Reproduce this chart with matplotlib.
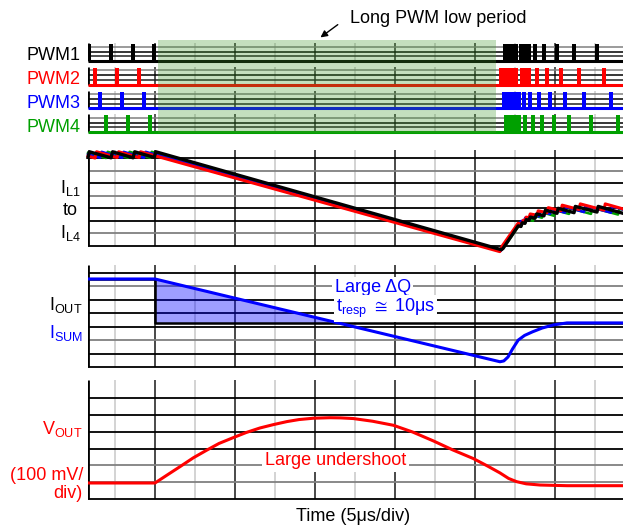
import matplotlib
matplotlib.use("Agg")
import matplotlib.pyplot as plt
import numpy as np

plt.rcParams["font.family"] = ["Liberation Sans", "DejaVu Sans"]
plt.rcParams["font.size"] = 13
plt.rcParams["mathtext.fontset"] = "custom"
plt.rcParams["mathtext.rm"] = "Liberation Sans"
plt.rcParams["mathtext.it"] = "Liberation Sans:italic"
plt.rcParams["mathtext.fallback"] = "stixsans"

W, H = 623, 527

# time axis in us (5 us/div)
t_left, t_right = 0.8125, 34.25
low_period = (5.2, 26.3)

# PWM pulses (centres, us) and the dense burst after the long low period
pwm_names = ["PWM1", "PWM2", "PWM3", "PWM4"]
pwm_colors = ["black", "red", "blue", "#00a000"]
pwm_pre = [
    [0.9, 2.25, 3.63, 4.95],
    [1.25, 2.63, 4.0],
    [1.56, 2.94, 4.31],
    [1.92, 3.29, 4.69],
]
pwm_burst = [(26.75, 27.69), (26.5, 27.69), (26.7, 27.9), (26.8, 27.9)]
pwm_post = [
    [27.875, 28.125, 28.375, 28.75, 29.31, 30.125, 31.19, 32.625],
    [27.94, 28.125, 28.375, 28.875, 29.5, 30.375, 31.5, 33.06],
    [28.06, 28.44, 29.0, 29.69, 30.625, 31.81, 33.5],
    [28.125, 28.625, 29.19, 29.94, 30.875, 32.25, 33.94],
]

# inductor currents (div)
il1_t = [0.8125, 0.9, 2.25, 2.35, 3.63, 3.73, 4.95, 5.05, 26.65, 26.75, 27.7, 27.875, 27.95,
         28.125, 28.2, 28.375, 28.45, 28.75, 28.85, 29.31, 29.4, 30.125, 30.2, 31.19, 31.27,
         32.625, 32.7, 34.25]
il1_y = [7.05, 7.5, 7.02, 7.5, 7.02, 7.5, 7.05, 7.5, -0.3, -0.2, 1.6, 1.55, 1.85,
         1.8, 2.1, 2.05, 2.3, 2.2, 2.55, 2.4, 2.85, 2.6, 3.0, 2.65, 3.15,
         2.7, 3.15, 2.6]
il2_t = [0.8125, 1.25, 1.35, 2.63, 2.73, 4.0, 4.1, 26.55, 26.7, 27.69, 27.94, 28.02, 28.125,
         28.2, 28.375, 28.45, 28.875, 28.95, 29.5, 29.58, 30.375, 30.45, 31.5, 31.58, 33.06,
         33.14, 34.25]
il2_y = [7.16, 7.0, 7.5, 7.04, 7.5, 7.04, 7.5, -0.45, 0.0, 1.8, 1.75, 2.05, 2.0,
         2.3, 2.25, 2.55, 2.45, 2.8, 2.65, 3.05, 2.8, 3.25, 2.9, 3.35, 2.85,
         3.35, 2.95]
il3_t = [0.8125, 1.56, 1.66, 2.94, 3.04, 4.31, 4.41, 26.6, 26.75, 27.9, 28.06, 28.14, 28.44,
         28.52, 29.0, 29.08, 29.69, 29.77, 30.625, 30.7, 31.81, 31.9, 33.5, 33.58, 34.25]
il3_y = [7.3, 7.02, 7.5, 7.02, 7.5, 7.02, 7.5, -0.4, -0.1, 2.0, 1.95, 2.25, 2.15,
         2.5, 2.35, 2.75, 2.55, 2.95, 2.65, 3.1, 2.7, 3.2, 2.65, 3.15, 2.9]
il4_t = [0.8125, 1.94, 2.04, 3.31, 3.41, 4.69, 4.79, 26.62, 26.8, 27.9, 28.125, 28.2, 28.625,
         28.7, 29.19, 29.27, 29.94, 30.02, 30.875, 30.95, 32.25, 32.33, 33.94, 34.02, 34.25]
il4_y = [7.41, 7.0, 7.5, 7.02, 7.5, 7.02, 7.5, -0.35, -0.1, 1.9, 1.85, 2.15, 2.0,
         2.4, 2.25, 2.65, 2.4, 2.85, 2.55, 3.0, 2.55, 3.05, 2.5, 2.95, 2.9]

# output current step and summed inductor current (div)
iout_t = [0.8125, 5.0, 5.0, 34.25]
iout_y = [6.55, 6.55, 3.28, 3.28]
isum_t = [0.8125, 5.0, 26.56, 26.8, 27.06, 27.35, 27.7, 28.1, 28.6, 29.2, 29.9, 30.75, 34.25]
isum_y = [6.55, 6.55, 0.39, 0.45, 0.74, 1.35, 2.0, 2.35, 2.62, 2.9, 3.13, 3.28, 3.28]

# output voltage (div, 100 mV/div)
vout_t = [0.8125, 5.0, 5.8, 6.56, 7.4, 8.25, 9.0, 9.9, 10.7, 11.56, 12.4, 13.25, 14.0, 14.9,
          15.94, 16.6, 17.4, 18.6, 19.9, 21.1, 22.4, 23.6, 24.9, 25.8, 26.56, 27.1, 27.6,
          28.2, 29.06, 30.75, 34.25]
vout_y = [0.95, 0.95, 1.45, 1.92, 2.45, 2.91, 3.3, 3.65, 3.95, 4.22, 4.42, 4.6, 4.72, 4.8,
          4.83, 4.82, 4.78, 4.62, 4.38, 3.98, 3.45, 2.92, 2.4, 1.95, 1.55, 1.22, 1.03,
          0.9, 0.83, 0.79, 0.79]

DARK = "#3a3a3a"
LIGHT = "#d0d0d0"
GRAY = "#808080"

fig = plt.figure(figsize=(W / 100, H / 100), dpi=100)


def px_axes(y0, y1, ylim):
    ax = fig.add_axes([88 / W, 1 - y1 / H, (623 - 88) / W, (y1 - y0) / H])
    ax.set_xlim(t_left, t_right)
    ax.set_ylim(*ylim)
    ax.axis("off")
    return ax


def scope_grid(ax, hcolors, top):
    n = len(hcolors) - 1
    for k in np.arange(2.5, 34, 2.5):
        c = DARK if k % 5 == 0 else LIGHT
        ax.vlines(k, 0, top, color=c, lw=1.3, zorder=1)
    for i, c in enumerate(hcolors):
        ax.hlines(n - i, t_left, t_right, color=c, lw=1.3, zorder=1)
    ax.vlines(t_left, 0, top, color="black", lw=2, zorder=2)


# ---- PWM panel
ax_pwm = px_axes(36, 136, (-0.17, 4.05))
for row, (name, col) in enumerate(zip(pwm_names, pwm_colors)):
    base = 3 - row
    for k in np.arange(2.5, 34, 2.5):
        c = DARK if k % 5 == 0 else LIGHT
        ax_pwm.vlines(k, base, base + 0.75, color=c, lw=1.2, zorder=1)
    for h, c in zip([0.2, 0.39, 0.6], ["#222222", "black", GRAY]):
        ax_pwm.hlines(base + h, t_left, t_right, color=c, lw=1.1, zorder=1)
    ax_pwm.vlines(t_left, base, base + 0.75, color="black", lw=2, zorder=2)
    pulses = pwm_pre[row] + pwm_post[row]
    ax_pwm.bar(pulses, 0.7, width=0.25, bottom=base, color=col, zorder=3)
    b0, b1 = pwm_burst[row]
    ax_pwm.bar(b0, 0.7, width=b1 - b0, bottom=base, align="edge", color=col, zorder=3)
    ax_pwm.hlines(base, t_left, t_right, color=col, lw=2.2, zorder=3)
    fig.text(81 / W, 1 - (60 + 23.9 * row) / H, name, color=col, ha="right", va="baseline")

ax_pwm.fill_between(low_period, -0.04, 3.88, color="#3e982a", alpha=0.3, lw=0, zorder=5)
ax_pwm.annotate("", xy=(15.2, 3.92), xytext=(340, H - 23), textcoords="figure pixels",
                arrowprops=dict(arrowstyle="-|>", color="black", lw=1, mutation_scale=10),
                annotation_clip=False)
fig.text(350 / W, 1 - 22.7 / H, "Long PWM low period", ha="left", va="baseline")

# ---- inductor currents
ax_il = px_axes(148, 252, (-0.48, 7.8))
scope_grid(ax_il, ["k", GRAY, "k", GRAY, "k", "k", GRAY, "k"], 7.64)
ax_il.plot(il4_t, il4_y, color="#00a000", lw=1.8, zorder=4, clip_on=False)
ax_il.plot(il3_t, il3_y, color="blue", lw=1.8, zorder=4, clip_on=False)
ax_il.plot(il2_t, il2_y, color="red", lw=2.2, zorder=4, clip_on=False)
ax_il.plot(il1_t, il1_y, color="black", lw=2.4, zorder=4, clip_on=False)
fig.text(81 / W, 1 - 193 / H, r"I$_{\mathrm{L1}}$", ha="right", va="baseline")
fig.text(78 / W, 1 - 215 / H, "to", ha="right", va="baseline")
fig.text(81 / W, 1 - 238 / H, r"I$_{\mathrm{L4}}$", ha="right", va="baseline")

# ---- output current vs summed current
ax_i = px_axes(263, 369, (-0.15, 7.74))
scope_grid(ax_i, ["k", GRAY, "k", "k", "k", GRAY, "k", "k"], 7.6)
fill_t = np.array(isum_t[1:3])
fill_y = np.array(isum_y[1:3])
ax_i.fill_between(fill_t, fill_y, iout_y[-1], where=fill_y > iout_y[-1], interpolate=True,
                  color="blue", alpha=0.38, lw=0, zorder=2)
ax_i.plot(iout_t, iout_y, color="black", lw=1.8, zorder=4)
ax_i.plot(isum_t, isum_y, color="blue", lw=2.2, zorder=5)
ax_i.text(18.6, 5.58, "Large ΔQ", color="blue", ha="center", va="baseline", zorder=6,
          bbox=dict(facecolor="white", edgecolor="none", pad=1.5))
ax_i.text(19.4, 4.1, r"t$_{\mathrm{resp}}$ $\cong$ 10μs", color="blue", ha="center",
          va="baseline", zorder=6, bbox=dict(facecolor="white", edgecolor="none", pad=1.5))
fig.text(82 / W, 1 - 310 / H, r"I$_{\mathrm{OUT}}$", ha="right", va="baseline")
fig.text(83 / W, 1 - 338 / H, r"I$_{\mathrm{SUM}}$", color="blue", ha="right", va="baseline")

# ---- output voltage
ax_v = px_axes(378, 501, (-0.12, 7.19))
scope_grid(ax_v, ["k", "k", "k", "k", GRAY, GRAY, "k"], 7.07)
ax_v.plot(vout_t, vout_y, color="red", lw=2.2, zorder=4)
ax_v.text(16.3, 2.26, "Large undershoot", color="red", ha="center", va="center", zorder=6,
          bbox=dict(facecolor="white", edgecolor="none", pad=2))
fig.text(82 / W, 1 - 434 / H, r"V$_{\mathrm{OUT}}$", color="red", ha="right", va="baseline")
fig.text(83 / W, 1 - 480 / H, "(100 mV/", color="red", ha="right", va="baseline")
fig.text(83 / W, 1 - 498 / H, "div)", color="red", ha="right", va="baseline")

fig.text(353 / W, 1 - 521 / H, "Time (5μs/div)", ha="center", va="baseline")

fig.savefig("out.png", dpi=100)
